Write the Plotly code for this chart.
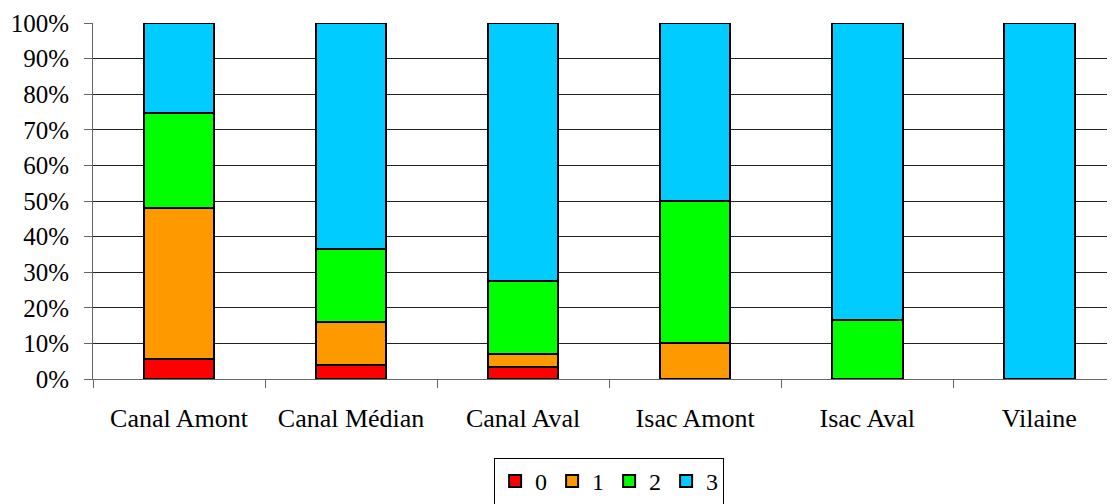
import plotly.graph_objects as go

categories = ["Canal Amont", "Canal Médian", "Canal Aval", "Isac Amont", "Isac Aval", "Vilaine"]
series_names = ["0", "1", "2", "3"]
s0 = [5.6, 3.9, 3.5, 0, 0, 0]
s1 = [42.4, 12.2, 3.4, 10.0, 0, 0]
s2 = [26.7, 20.5, 20.6, 40.0, 16.7, 0]
s3 = [25.3, 63.4, 72.5, 50.0, 83.3, 100.0]
colors = ["#FF0000", "#FF9900", "#00FF00", "#00CCFF"]
y_ticks = [0, 10, 20, 30, 40, 50, 60, 70, 80, 90, 100]
y_tick_labels = [f"{v}%" for v in y_ticks]

font_family = "Liberation Serif, Times New Roman, serif"

fig = go.Figure()
for name, vals, col in zip(series_names, [s0, s1, s2, s3], colors):
    fig.add_trace(go.Bar(
        x=categories, y=vals, name=name,
        marker=dict(color=col, line=dict(color="black", width=2)),
        width=0.41,
    ))

fig.update_layout(
    barmode="stack",
    width=1107, height=496,
    margin=dict(l=85, r=0, t=15, b=125, autoexpand=False),
    paper_bgcolor="white", plot_bgcolor="white",
    font=dict(family=font_family, size=25, color="black"),
    xaxis=dict(
        range=[-0.5, 5.44],
        showline=True, linecolor="#666", linewidth=1,
        ticks="outside", tickson="boundaries", ticklen=8, tickcolor="#666",
        showgrid=False, automargin=False,
        ticklabelstandoff=16,
        tickfont=dict(size=26),
    ),
    yaxis=dict(
        range=[0, 100],
        tickvals=y_ticks, ticktext=y_tick_labels,
        showline=True, linecolor="#666", linewidth=1,
        ticks="outside", ticklen=8, tickcolor="#666",
        showgrid=True, gridcolor="#222", gridwidth=1,
        zeroline=False, automargin=False,
        ticklabelstandoff=10,
        tickfont=dict(size=25),
    ),
    legend=dict(
        orientation="h", x=0.505, xanchor="center",
        yref="container", y=0.093, yanchor="top",
        bordercolor="black", borderwidth=1, bgcolor="white",
        font=dict(size=24), traceorder="normal",
        itemwidth=30, tracegroupgap=0,
    ),
    showlegend=True,
)

fig.write_html("out.html")
